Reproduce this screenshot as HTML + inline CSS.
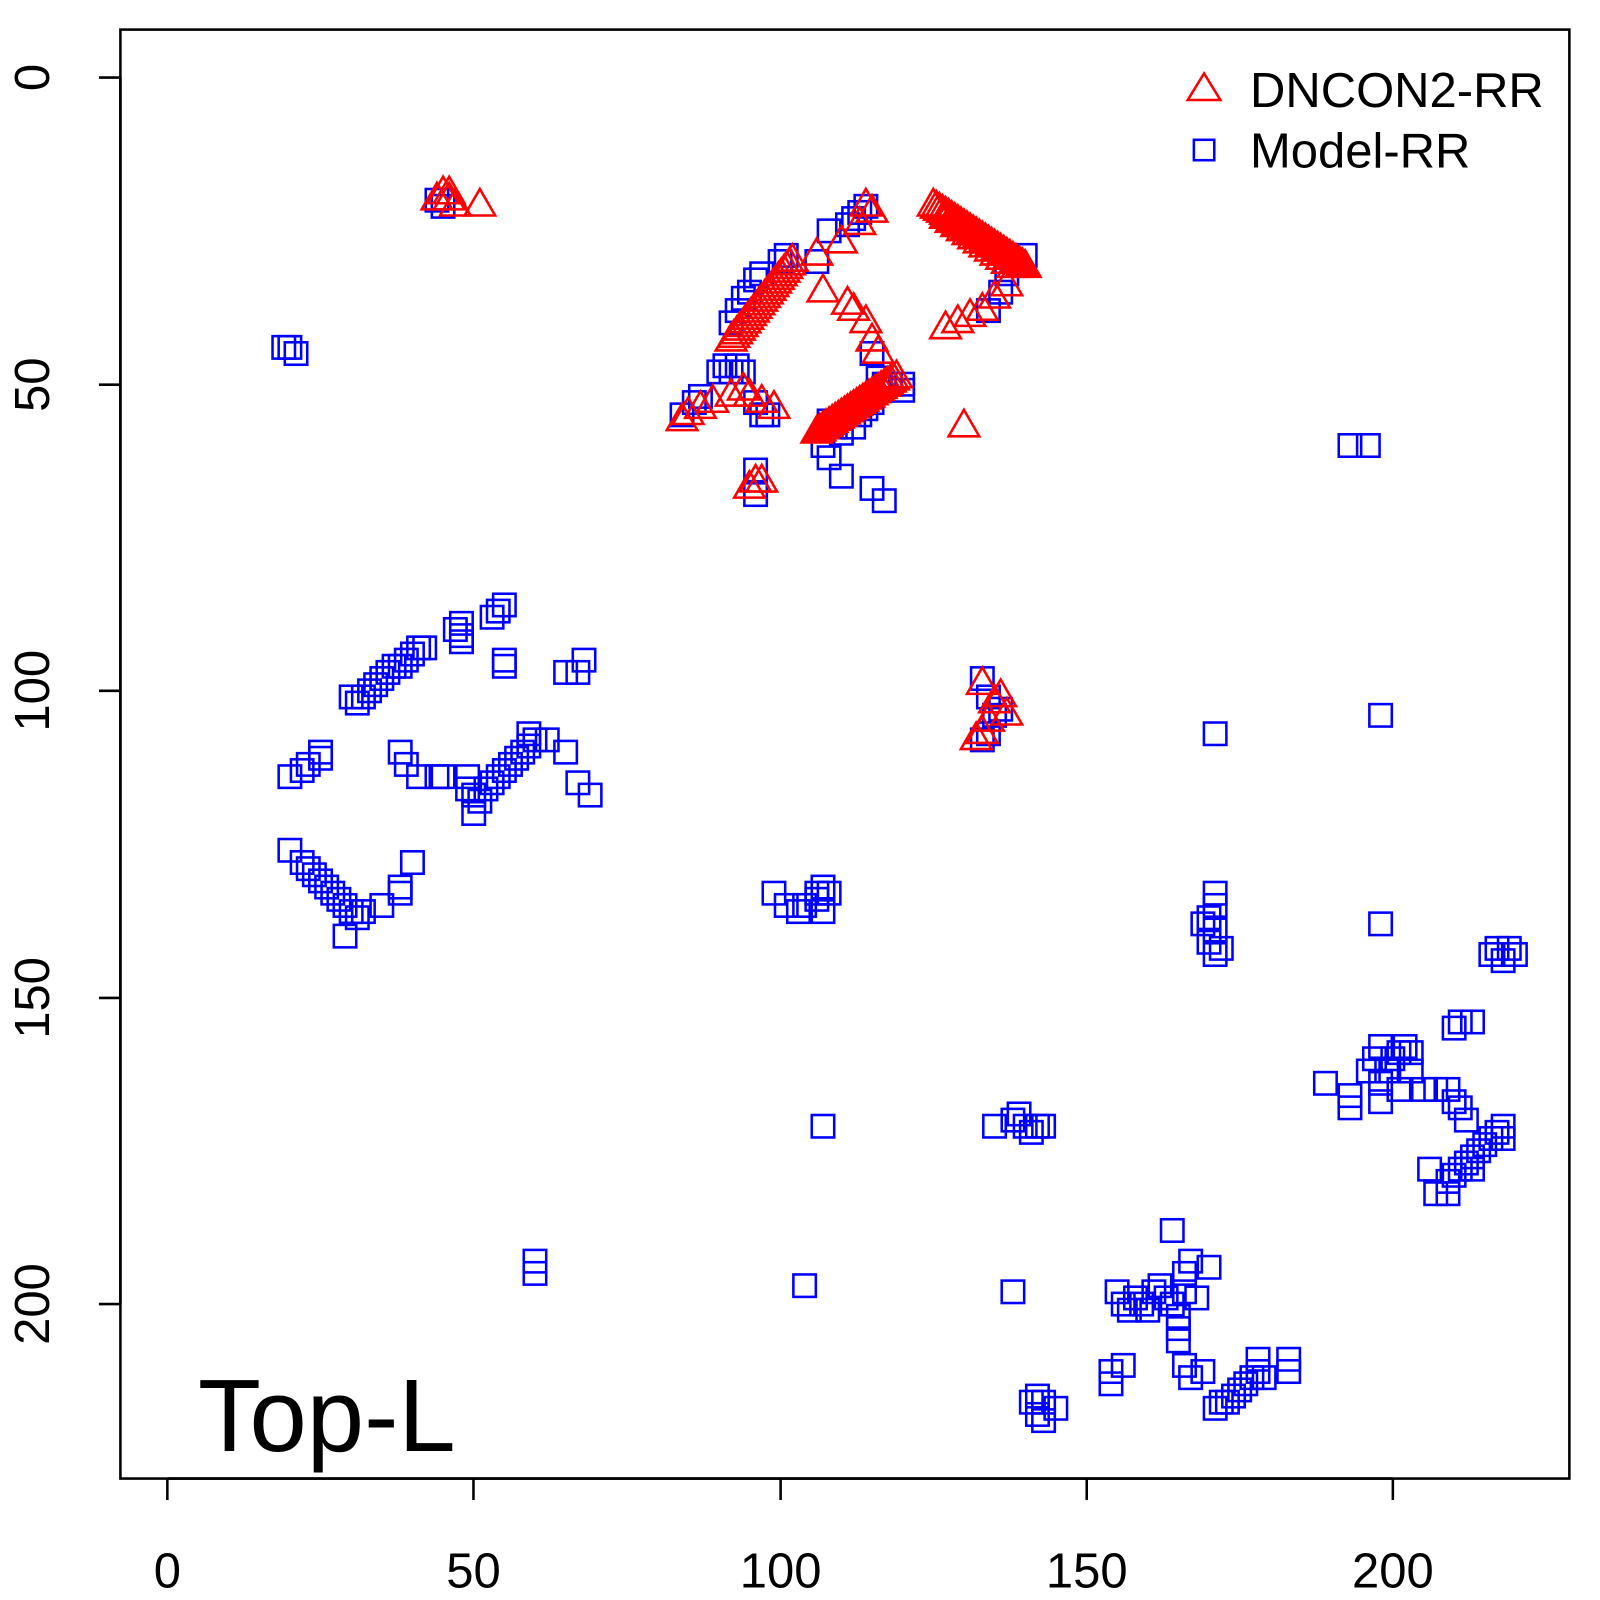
<!DOCTYPE html>
<html><head><meta charset="utf-8"><style>
html,body{margin:0;padding:0;background:#fff;}
svg{display:block;font-family:"Liberation Sans",sans-serif;}
</style></head><body>
<svg id="s" width="1600" height="1600" viewBox="0 0 1600 1600" xmlns="http://www.w3.org/2000/svg">
<rect x="0" y="0" width="1600" height="1600" fill="#fff"/>
<g transform="scale(1.0204)">
<rect x="118" y="29" width="1420" height="1420" fill="none" stroke="#000" stroke-width="2.5"/>
<g stroke="#000" stroke-width="2.5">
<line x1="164" y1="1449" x2="1365" y2="1449"/>
<line x1="164" y1="1449" x2="164" y2="1470"/><line x1="464" y1="1449" x2="464" y2="1470"/>
<line x1="765" y1="1449" x2="765" y2="1470"/><line x1="1065" y1="1449" x2="1065" y2="1470"/>
<line x1="1365" y1="1449" x2="1365" y2="1470"/>
<line x1="118" y1="76" x2="118" y2="1278"/>
<line x1="97" y1="76" x2="118" y2="76"/><line x1="97" y1="377" x2="118" y2="377"/>
<line x1="97" y1="677" x2="118" y2="677"/><line x1="97" y1="978" x2="118" y2="978"/>
<line x1="97" y1="1278" x2="118" y2="1278"/>
</g>
<g font-size="48" text-anchor="middle" fill="#000">
<text x="164" y="1556">0</text><text x="464" y="1556">50</text><text x="765" y="1556">100</text>
<text x="1065" y="1556">150</text><text x="1365" y="1556">200</text>
<text transform="translate(48,76) rotate(-90)">0</text>
<text transform="translate(48,377) rotate(-90)">50</text>
<text transform="translate(48,677) rotate(-90)">100</text>
<text transform="translate(48,978) rotate(-90)">150</text>
<text transform="translate(48,1278) rotate(-90)">200</text>
</g>
<text x="194" y="1422" font-size="101" fill="#000">Top-L</text>
<polygon points="1164,98 1196,98 1180,72" fill="none" stroke="#f00" stroke-width="2.5"/>
<text x="1225" y="105" font-size="48">DNCON2-RR</text>
<rect x="1170" y="137" width="20" height="20" fill="none" stroke="#00f" stroke-width="2.5"/>
<text x="1225" y="164" font-size="48">Model-RR</text>
<g id="pts"></g>
</g>
</svg>
<script>
var B=[[20,44],[21,45],[19,44],[30,101],[31,102],[32,101],[33,100],[34,99],[35,98],[36,97],[37,96],[38,96],[39,95],[40,94],[41,93],[42,93],[47,90],[48,89],[48,91],[48,92],[53,88],[55,86],[54,87],[55,95],[55,96],[65,97],[67,97],[68,95],
[20,114],[22,113],[23,112],[25,111],[25,110],[38,110],[39,112],[41,114],[44,114],[45,114],[49,114],[49,116],[50,117],[50,120],[51,118],[52,116],[53,115],[54,114],[55,113],[56,112],[57,111],[58,110],[59,109],[59,107],[60,108],[62,108],[65,110],[67,115],[69,117],
[20,126],[22,128],[23,129],[24,130],[25,131],[26,132],[27,133],[28,134],[29,135],[30,136],[31,137],[32,136],[35,135],[38,133],[38,132],[40,128],[29,140],[60,193],[60,195],
[99,133],[101,135],[103,136],[104,135],[106,134],[106,133],[107,132],[108,133],[107,136],[107,171],[104,197],
[135,171],[138,170],[139,169],[140,171],[141,172],[142,171],[143,171],[138,198],[141,216],[142,218],[143,219],[143,216],[145,217],[142,215],
[154,211],[154,213],[156,210],[155,198],[156,200],[157,201],[158,199],[159,200],[160,201],[161,198],[162,197],[163,199],[164,188],[164,200],[165,202],[165,204],[165,206],[166,195],[166,198],[167,193],[168,199],[170,194],[166,210],[167,212],[169,211],[171,217],[172,216],[173,216],[174,215],[175,214],[176,213],[177,212],[178,211],[179,212],[178,209],[183,209],[183,211],
[170,137],[170,141],[171,139],[171,143],[172,142],[169,138],[171,135],[171,133],[171,107],[198,104],[198,138],[193,60],[196,60],
[189,164],[193,166],[193,168],[196,162],[197,160],[198,158],[198,164],[198,167],[199,162],[200,160],[201,159],[202,158],[201,165],[203,159],[203,162],[205,165],[207,165],[209,165],[210,167],[211,168],[212,170],[214,175],[215,174],[216,173],[217,172],[218,171],[218,173],[210,155],[211,154],[213,154],[206,178],[207,182],[209,182],[209,180],[210,179],[211,178],[212,177],[213,176],[213,178],[216,143],[217,142],[218,144],[219,142],[220,143],
[44,20],[45,21],[111,24],[112,23],[113,22],[114,21],[108,25],[101,29],[100,30],[97,32],[96,33],[95,35],[94,36],[93,38],[92,40],[106,30],[140,29],[134,38],[136,35],[137,32],[138,30],[90,48],[91,47],[92,48],[93,47],[94,48],[87,52],[86,53],[84,55],[96,53],[97,55],[98,55],[96,64],[96,68],[107,60],[108,62],[110,65],[115,67],[117,69],[118,50],[120,50],[120,51],[115,45],[116,49],[117,50],[108,56],[109,57],[110,58],[112,57],[113,55],[114,54],[115,53],[133,98],[134,101],[135,104],[134,107],[133,108],[136,103]];
var R=[[44,20],[45,19],[46,19],[46,20],[47,21],[51,21],[84,56],[85,55],[87,54],[89,53],[92,52],[94,51],[95,52],[97,53],[99,54],[96,66],[97,66],[95,67],[106,29],[107,35],[110,27],[113,24],[114,21],[115,22],[111,37],[112,38],[114,40],[115,43],[116,45],[130,57],[127,41],[129,40],[131,39],[133,38],[135,36],[137,34],[133,99],[135,102],[137,104],[132,108],[134,105],[133,107],[136,101]];
function ln(a,b,c,d,n){for(var i=0;i<=n;i++)R.push([a+(c-a)*i/n,b+(d-b)*i/n]);}
ln(92,43,102,30,22);ln(106,58,119,49,26);ln(125,21,140,31,30);ln(127,23,138,31,12);
var s='',X=function(v){return 164+v*6.005},Y=function(v){return 76+v*6.01};
B.forEach(function(p){s+='<rect x="'+(X(p[0])-11)+'" y="'+(Y(p[1])-11)+'" width="22" height="22" fill="none" stroke="#00f" stroke-width="2.5"/>';});
R.forEach(function(p){var x=X(p[0]),y=Y(p[1]);s+='<polygon points="'+(x-15)+','+(y+9)+' '+(x+15)+','+(y+9)+' '+x+','+(y-17)+'" fill="none" stroke="#f00" stroke-width="2.5"/>';});
document.getElementById('pts').innerHTML=s;
</script>
</body></html>
